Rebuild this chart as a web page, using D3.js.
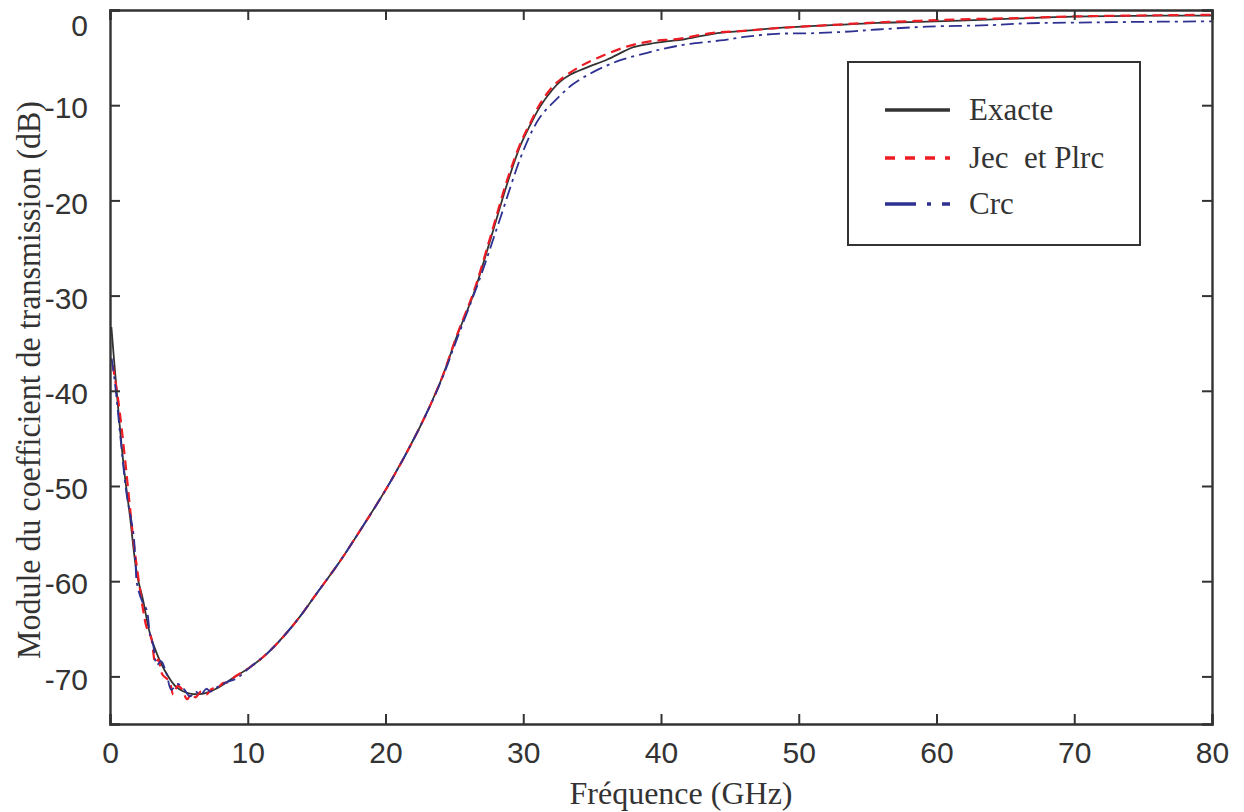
<!DOCTYPE html>
<html>
<head>
<meta charset="utf-8">
<script src="https://cdn.jsdelivr.net/npm/d3@7/dist/d3.min.js"></script>
<style>
  html, body { margin: 0; padding: 0; background: #fff; }
  svg { display: block; }
</style>
</head>
<body>
<svg id="chart" width="1244" height="812"></svg>
<script>
// ---- Data ----
const xTicks = [0, 10, 20, 30, 40, 50, 60, 70, 80];
const yTicks = [0, -10, -20, -30, -40, -50, -60, -70];

const freqExacte = [0.1, 0.5, 1.0, 1.45, 1.95, 2.4, 2.9, 3.4, 4.1, 4.8, 5.8, 6.8, 7.7, 8.9, 10.2, 11.4, 12.6, 13.8, 15.0, 16.7, 17.7, 20.3, 22.5, 24.0, 25.2, 26.4, 27.6, 28.8, 29.8, 30.5, 31.2, 32.1, 32.7, 33.4, 34.6, 36.1, 37.3, 38.0, 39.2, 40.4, 41.6, 43.8, 46.0, 48.4, 50.8, 53.2, 55.7, 58.5, 61.7, 66.1, 69.9, 76.2, 80];
const exacte = [-33.3, -40.3, -48.0, -53.2, -59.2, -62.0, -65.5, -67.6, -69.7, -71.1, -71.8, -71.8, -71.3, -70.2, -69.0, -67.6, -65.8, -63.7, -61.3, -57.9, -55.7, -49.7, -43.8, -39.0, -34.2, -29.8, -24.2, -18.4, -14.2, -12.1, -10.2, -8.4, -7.5, -6.8, -6.05, -5.2, -4.35, -3.9, -3.55, -3.3, -3.1, -2.5, -2.2, -1.9, -1.7, -1.54, -1.35, -1.25, -1.12, -0.88, -0.7, -0.6, -0.6];

const freqJec = [0.2, 0.6, 1.1, 1.7, 1.95, 2.4, 2.65, 3.0, 3.3, 3.5, 3.8, 4.3, 4.6, 4.9, 5.2, 5.6, 5.9, 6.2, 6.6, 7.0, 7.4, 7.8, 8.2, 8.6, 9.0, 10.2, 11.4, 12.6, 13.8, 15.0, 16.7, 17.7, 20.3, 22.5, 24.0, 25.2, 26.4, 27.6, 28.8, 29.8, 30.5, 31.2, 32.1, 32.7, 34.1, 35.6, 37.5, 39.2, 41.4, 43.8, 46.0, 48.4, 50.8, 53.2, 55.7, 58.5, 61.7, 66.1, 69.9, 76.2, 80];
const jec = [-37.3, -41.0, -47.3, -55.7, -58.5, -63.0, -64.8, -66.0, -68.6, -68.2, -69.8, -70.5, -71.9, -71.0, -71.3, -72.4, -71.8, -72.2, -71.6, -71.9, -71.3, -71.2, -70.7, -70.6, -70.1, -69.0, -67.6, -65.8, -63.7, -61.3, -57.9, -55.7, -49.7, -43.8, -39.0, -34.1, -29.6, -23.9, -18.0, -14.0, -11.9, -9.9, -8.1, -7.3, -5.95, -4.9, -3.85, -3.3, -3.0, -2.4, -2.2, -1.9, -1.7, -1.5, -1.3, -1.15, -0.98, -0.85, -0.68, -0.55, -0.5];

const freqCrc = [0.12, 0.36, 0.8, 1.2, 1.7, 1.85, 1.95, 2.3, 2.66, 2.9, 3.15, 3.4, 3.7, 4.1, 4.45, 4.9, 5.4, 5.8, 6.2, 6.6, 7.0, 7.3, 7.7, 8.5, 9.2, 10.2, 11.4, 12.6, 13.8, 15.0, 16.7, 17.7, 20.3, 22.5, 24.0, 25.2, 26.9, 28.3, 30.0, 31.2, 32.4, 33.6, 35.1, 37.0, 39.0, 40.4, 41.9, 44.3, 46.2, 48.4, 50.8, 53.2, 55.7, 59.3, 64.1, 66.5, 71.4, 76.2, 80];
const crc = [-36.6, -39.2, -45.5, -50.8, -55.0, -58.0, -60.2, -62.0, -63.0, -65.5, -66.8, -68.8, -68.4, -69.7, -71.4, -70.8, -71.4, -72.1, -71.6, -71.9, -71.3, -71.6, -71.2, -70.6, -70.2, -69.0, -67.6, -65.8, -63.7, -61.3, -57.9, -55.7, -49.7, -43.8, -39.1, -34.5, -28.0, -22.0, -14.8, -11.3, -9.4, -7.8, -6.5, -5.3, -4.5, -4.0, -3.6, -3.2, -2.8, -2.5, -2.45, -2.3, -2.05, -1.75, -1.58, -1.4, -1.3, -1.23, -1.19];

const seriesNames = ["Exacte", "Jec\u00a0 et Plrc", "Crc"];
const seriesColors = ["#333333", "#ed1c24", "#2e3192"];

// ---- Layout ----
const svg = d3.select("#chart");
const mLeft = 110, mRight = 1212, mTop = 10, mBottom = 724;
const axisColor = "#333333";

const x = d3.scaleLinear().domain([0, 80]).range([mLeft, mRight]);
const y = d3.scaleLinear().domain([-75, 0]).range([mBottom, mTop]);

svg.append("defs").append("clipPath").attr("id", "clip")
  .append("rect").attr("x", mLeft).attr("y", mTop).attr("width", mRight - mLeft).attr("height", mBottom - mTop);

// Curves
const line = d3.line().x(d => x(d[0])).y(d => y(d[1])).curve(d3.curveCatmullRom.alpha(0.5));
const zip = (a, b) => a.map((v, i) => [v, b[i]]);

const g = svg.append("g").attr("clip-path", "url(#clip)");
g.append("path").datum(zip(freqExacte, exacte)).attr("d", line)
  .attr("fill", "none").attr("stroke", seriesColors[0]).attr("stroke-width", 1.8);
g.append("path").datum(zip(freqJec, jec)).attr("d", line)
  .attr("fill", "none").attr("stroke", seriesColors[1]).attr("stroke-width", 2.2)
  .attr("stroke-dasharray", "10,6");
g.append("path").datum(zip(freqCrc, crc)).attr("d", line)
  .attr("fill", "none").attr("stroke", seriesColors[2]).attr("stroke-width", 1.8)
  .attr("stroke-dasharray", "13,5,3,5");

// Axes (inward ticks, box)
const tickLen = 10;
const fontTick = "'Liberation Sans', Arial, Helvetica, sans-serif";
const fontSerif = "'Liberation Serif', 'Times New Roman', serif";
const fmt = d => String(d);

const axB = svg.append("g").attr("transform", `translate(0,${mBottom})`)
  .call(d3.axisBottom(x).tickValues(xTicks).tickSize(-tickLen).tickPadding(18).tickFormat(fmt));
const axT = svg.append("g").attr("transform", `translate(0,${mTop})`)
  .call(d3.axisTop(x).tickValues(xTicks).tickSize(-tickLen).tickFormat(""));
const axL = svg.append("g").attr("transform", `translate(${mLeft},0)`)
  .call(d3.axisLeft(y).tickValues(yTicks).tickSize(-tickLen).tickPadding(22).tickFormat(fmt));
const axR = svg.append("g").attr("transform", `translate(${mRight},0)`)
  .call(d3.axisRight(y).tickValues(yTicks).tickSize(-tickLen).tickFormat(""));

[axB, axT, axL, axR].forEach(a => {
  a.select(".domain").attr("stroke", axisColor).attr("stroke-width", 2.4);
  a.selectAll(".tick line").attr("stroke", axisColor).attr("stroke-width", 2);
  a.selectAll("text").attr("fill", "#333").style("font-family", fontTick).style("font-size", "30px");
});
axL.selectAll(".tick text").attr("dy", d => d === 0 ? "0.85em" : "0.42em");
axB.selectAll(".tick text").attr("dy", "0.71em");

// Axis labels
svg.append("text").attr("x", 681).attr("y", 804).attr("text-anchor", "middle")
  .style("font-family", fontSerif).style("font-size", "32px").attr("fill", "#333")
  .text("Fréquence (GHz)");
svg.append("text").attr("transform", "translate(40,380) rotate(-90)").attr("text-anchor", "middle")
  .style("font-family", fontSerif).style("font-size", "33px").attr("fill", "#333")
  .attr("textLength", 558).attr("lengthAdjust", "spacingAndGlyphs")
  .text("Module du coefficient de transmission (dB)");

// Legend
const lg = svg.append("g");
lg.append("rect").attr("x", 848).attr("y", 62).attr("width", 292).attr("height", 183)
  .attr("fill", "#fff").attr("stroke", axisColor).attr("stroke-width", 2);
const legY = [110, 158, 204];
const dashes = [null, "10,10", "31,11,4,11"];
seriesNames.forEach((name, i) => {
  const l = lg.append("line").attr("x1", 885).attr("x2", 950).attr("y1", legY[i]).attr("y2", legY[i])
    .attr("stroke", seriesColors[i]).attr("stroke-width", 3.5);
  if (dashes[i]) l.attr("stroke-dasharray", dashes[i]);
  lg.append("text").attr("x", 969).attr("y", legY[i]).attr("dy", "0.33em")
    .style("font-family", fontSerif).style("font-size", "31px").attr("fill", "#333")
    .text(name);
});
</script>
</body>
</html>
